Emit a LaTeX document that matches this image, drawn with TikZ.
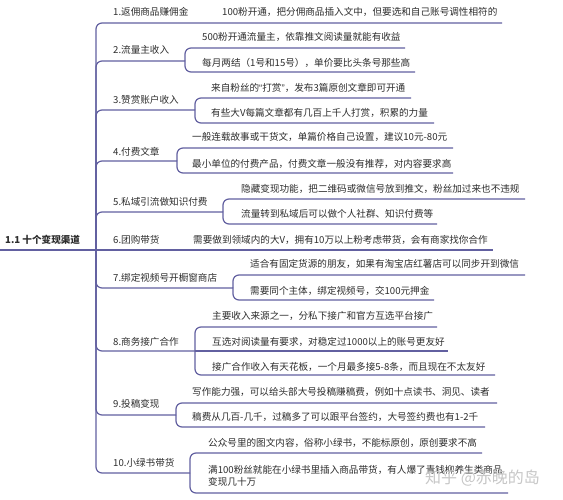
\documentclass[tikz,border=0pt]{standalone}
\usepackage{fontspec}
\setmainfont{Noto Sans CJK SC}
\newfontfamily\qfont{Liberation Sans}
\definecolor{linec}{RGB}{98,96,160}
\definecolor{txtc}{RGB}{45,45,45}
\tikzset{
  x=1pt,y=-1pt,
  lbl/.style={anchor=west,inner sep=0pt,text=txtc,font=\fontsize{9.6}{12}\selectfont},
  rootlbl/.style={lbl,font=\fontsize{9.6}{12}\selectfont\bfseries},
  conn/.style={draw=linec,line width=1.2pt,rounded corners=6pt},
  wmark/.style={anchor=west,inner sep=0pt,text=black!22,font=\fontsize{16}{18}\selectfont}
}
\begin{document}
\begin{tikzpicture}
\fill[white] (0,0) rectangle (563,500);
\useasboundingbox (0,0) rectangle (563,500);
% root
\node[rootlbl] (root) at (5,240) {1.1 十个变现渠道};
\coordinate (r0) at (0,250);
\coordinate (hub) at (96,250);
\draw[conn] (r0) -- (hub);
% ---- branch labels
\node[lbl] (b1) at (113,12) {1.返佣商品赚佣金};
\node[lbl] (b2) at (113,50) {2.流量主收入};
\node[lbl] (b3) at (113,100) {3.赞赏账户收入};
\node[lbl] (b4) at (113,152) {4.付费文章};
\node[lbl] (b5) at (113,202) {5.私域引流做知识付费};
\node[lbl] (b6) at (113,240) {6.团购带货};
\node[lbl] (b7) at (113,278) {7.绑定视频号开橱窗商店};
\node[lbl] (b8) at (113,342) {8.商务接广合作};
\node[lbl] (b9) at (113,404) {9.投稿变现};
\node[lbl] (b10) at (113,463) {10.小绿书带货};
% ---- leaf texts
\node[lbl] (t1) at (222,12) {100粉开通，把分佣商品插入文中，但要选和自己账号调性相符的};
\node[lbl] (t2a) at (202,37) {500粉开通流量主，依靠推文阅读量就能有收益};
\node[lbl] (t2b) at (202,63) {每月两结（1号和15号），单价要比头条号那些高};
\node[lbl] (t3a) at (211,88) {来自粉丝的{\qfont “}打赏{\qfont ”}，发布3篇原创文章即可开通};
\node[lbl] (t3b) at (211,113) {有些大V每篇文章都有几百上千人打赏，积累的力量};
\node[lbl] (t4a) at (192,137) {一般连载故事或干货文，单篇价格自己设置，建议10元-80元};
\node[lbl] (t4b) at (192,164) {最小单位的付费产品，付费文章一般没有推荐，对内容要求高};
\node[lbl] (t5a) at (241,189) {隐藏变现功能，把二维码或微信号放到推文，粉丝加过来也不违规};
\node[lbl] (t5b) at (241,214) {流量转到私域后可以做个人社群、知识付费等};
\node[lbl] (t6) at (193,240) {需要做到领域内的大V，拥有10万以上粉考虑带货，会有商家找你合作};
\node[lbl] (t7a) at (250,264) {适合有固定货源的朋友，如果有淘宝店红薯店可以同步开到微信};
\node[lbl] (t7b) at (250,291) {需要同个主体，绑定视频号，交100元押金};
\node[lbl] (t8a) at (212,316) {主要收入来源之一，分私下接广和官方互选平台接广};
\node[lbl] (t8b) at (212,342) {互选对阅读量有要求，对稳定过1000以上的账号更友好};
\node[lbl] (t8c) at (212,367) {接广合作收入有天花板，一个月最多接5-8条，而且现在不太友好};
\node[lbl] (t9a) at (192,392) {写作能力强，可以给头部大号投稿赚稿费，例如十点读书、洞见、读者};
\node[lbl] (t9b) at (192,417) {稿费从几百-几千，过稿多了可以跟平台签约，大号签约费也有1-2千};
\node[lbl] (t10a) at (208,443) {公众号里的图文内容，俗称小绿书，不能标原创，原创要求不高};
\node[lbl,align=left] (t10b) at (208,476) {满100粉丝就能在小绿书里插入商品带货，有人爆了青钱柳养生类商品\\变现几十万};
% ---- trunk to branches
\coordinate (e1) at (502,23);
\coordinate (k2) at (185,61);
\coordinate (k3) at (195,110);
\coordinate (k4) at (177,161);
\coordinate (k5) at (223,212);
\coordinate (e6) at (493,250);
\coordinate (k7) at (233,288);
\coordinate (k8) at (195,351);
\coordinate (k9) at (176,415);
\coordinate (k10) at (190,473);
\draw[conn] (hub) -- (96,23) -- (e1);
\draw[conn] (hub) -- (96,61) -- (k2);
\draw[conn] (hub) -- (96,110) -- (k3);
\draw[conn] (hub) -- (96,161) -- (k4);
\draw[conn] (hub) -- (96,212) -- (k5);
\draw[conn] (hub) -- (e6);
\draw[conn] (hub) -- (96,288) -- (k7);
\draw[conn] (hub) -- (96,351) -- (k8);
\draw[conn] (hub) -- (96,415) -- (k9);
\draw[conn] (hub) -- (96,473) -- (k10);
% ---- brackets to leaves
\draw[conn] (k2) -- (185,48) -- (405,48);
\draw[conn] (k2) -- (185,72) -- (415,72);
\draw[conn] (k3) -- (195,98) -- (411,98);
\draw[conn] (k3) -- (195,123) -- (434,123);
\draw[conn] (k4) -- (177,148) -- (453,148);
\draw[conn] (k4) -- (177,173) -- (453,173);
\draw[conn] (k5) -- (223,199) -- (525,199);
\draw[conn] (k5) -- (223,224) -- (437,224);
\draw[conn] (k7) -- (233,275) -- (525,275);
\draw[conn] (k7) -- (233,300) -- (434,300);
\draw[conn] (k8) -- (195,327) -- (437,327);
\draw[conn] (k8) -- (448,351);
\draw[conn] (k8) -- (195,375) -- (495,375);
\draw[conn] (k9) -- (176,403) -- (497,403);
\draw[conn] (k9) -- (176,427) -- (485,427);
\draw[conn] (k10) -- (190,453) -- (482,453);
\draw[conn] (k10) -- (190,493) -- (508,493);
% watermark
\node[wmark] (wm) at (425,478) {知乎 @赤晚的岛};
\end{tikzpicture}
\end{document}
